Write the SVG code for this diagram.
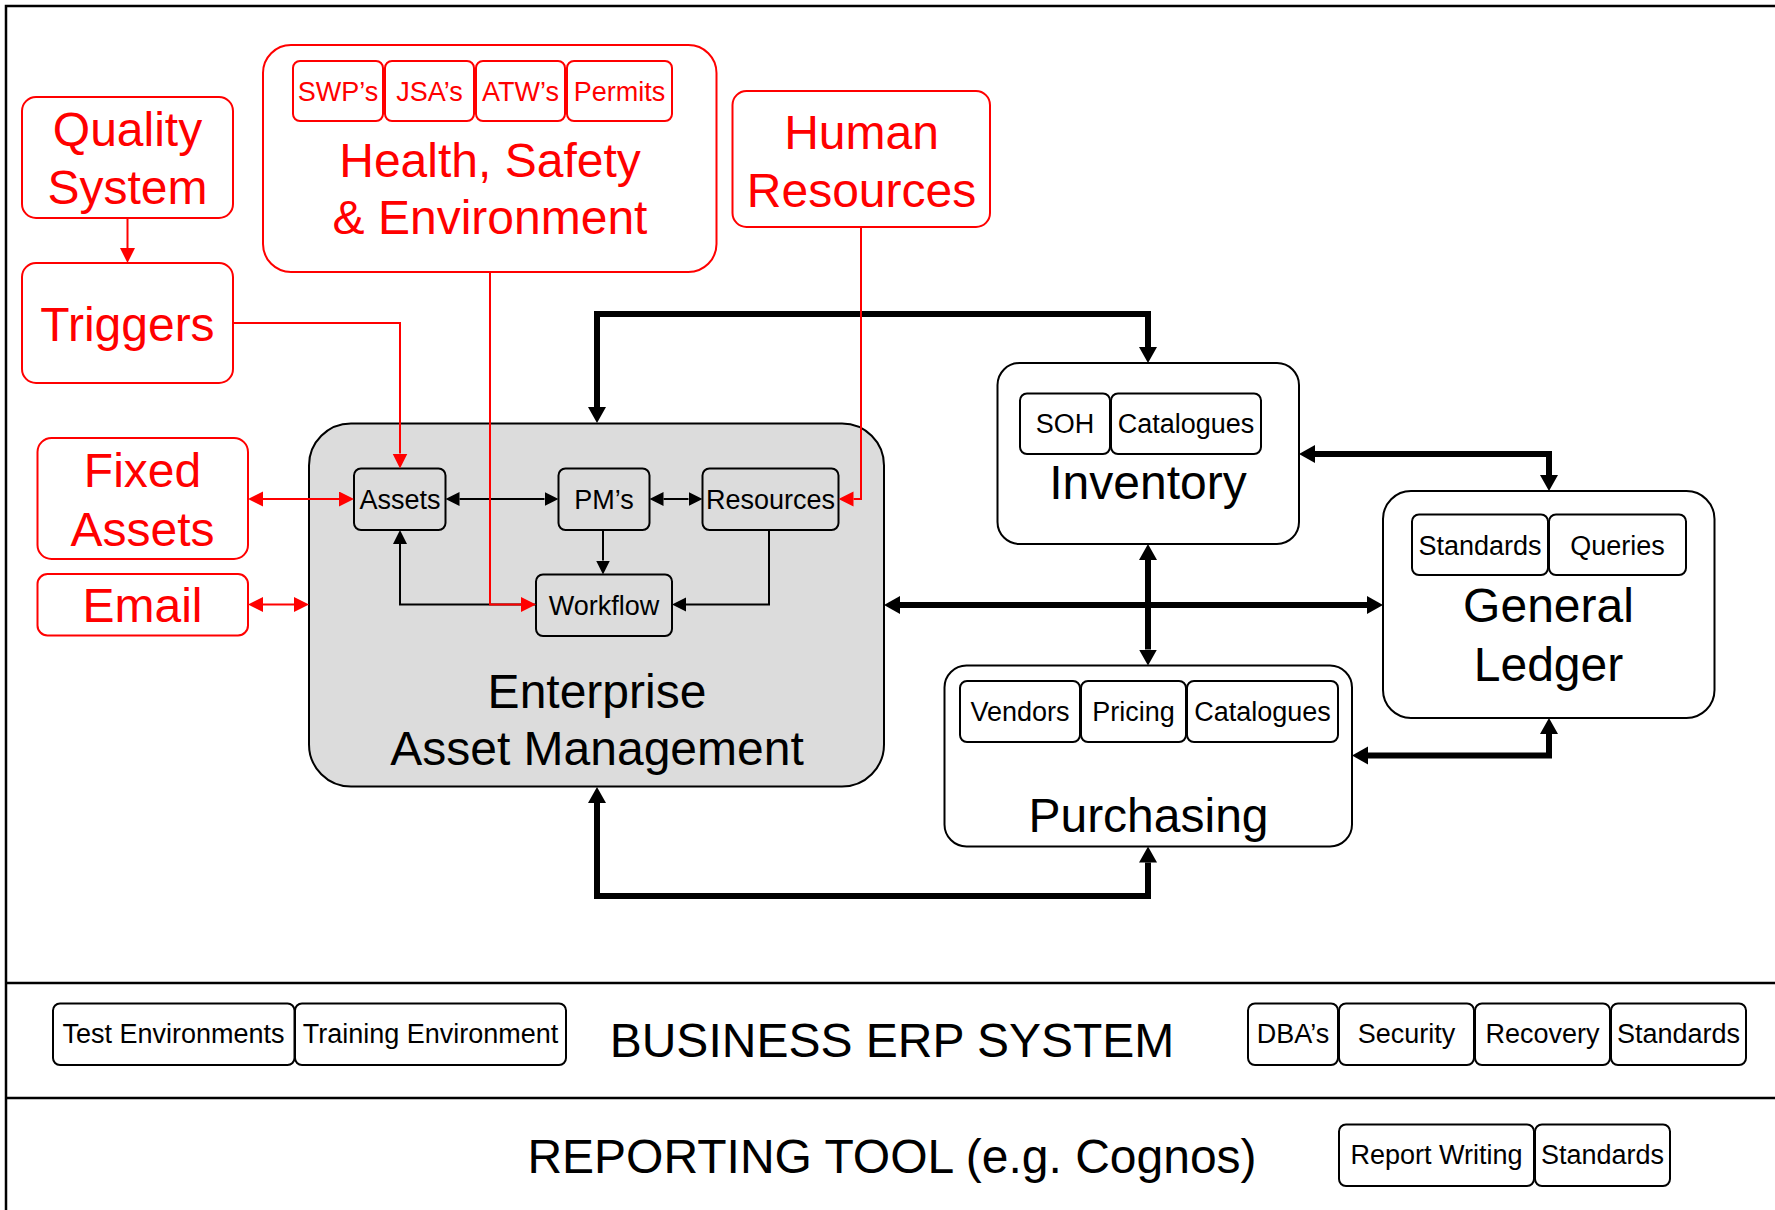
<svg xmlns="http://www.w3.org/2000/svg" width="1775" height="1210" viewBox="0 0 1775 1210">
<style>
text{font-family:"Liberation Sans",Arial,sans-serif;text-anchor:middle}
.big{font-size:48px}
.sm{font-size:27px}
.r{fill:#ff0000}
.k{fill:#000}
.rbox{fill:#fff;stroke:#ff0000;stroke-width:2}
.kbox{fill:#fff;stroke:#000;stroke-width:2}
.gbox{fill:#dcdcdc;stroke:#000;stroke-width:2}
.sub{fill:none;stroke:#000;stroke-width:2}
.rsub{fill:none;stroke:#ff0000;stroke-width:2}
.thick{fill:none;stroke:#000;stroke-width:6}
.thin{fill:none;stroke:#000;stroke-width:2}
.red{fill:none;stroke:#ff0000;stroke-width:2}
.frame{fill:none;stroke:#000;stroke-width:2.5}
</style>
<defs>
<marker id="ak" markerUnits="userSpaceOnUse" markerWidth="17" markerHeight="19" refX="0" refY="9" orient="auto-start-reverse"><path d="M0,0 L16,9 L0,18 z" fill="#000"/></marker>
<marker id="as" markerUnits="userSpaceOnUse" markerWidth="15" markerHeight="15" refX="0" refY="7" orient="auto-start-reverse"><path d="M0,0 L14,7 L0,14 z" fill="#000"/></marker>
<marker id="ar" markerUnits="userSpaceOnUse" markerWidth="16" markerHeight="16" refX="0" refY="7.5" orient="auto-start-reverse"><path d="M0,0 L15,7.5 L0,15 z" fill="#ff0000"/></marker>
</defs>
<rect width="1775" height="1210" fill="#fff"/>
<g id="frame">
<path class="frame" d="M6,1210 V6 H1775"/>
<path class="frame" d="M6,983 H1775 M6,1098 H1775"/>
</g>

<g id="quality">
<rect class="rbox" x="22" y="97" width="211" height="121" rx="14"/>
<text class="big r" x="127.5" y="145.5">Quality</text>
<text class="big r" x="127.5" y="203.5">System</text>
</g>
<g id="triggers">
<rect class="rbox" x="22" y="263" width="211" height="120" rx="14"/>
<text class="big r" x="127.5" y="340.5">Triggers</text>
</g>
<g id="hse">
<rect class="rbox" x="263" y="45" width="453.5" height="227" rx="28"/>
<rect class="rsub" x="293" y="61" width="90" height="60" rx="7"/>
<rect class="rsub" x="385" y="61" width="89" height="60" rx="7"/>
<rect class="rsub" x="476" y="61" width="89" height="60" rx="7"/>
<rect class="rsub" x="567" y="61" width="105" height="60" rx="7"/>
<text class="sm r" x="338" y="100.5">SWP’s</text>
<text class="sm r" x="429.5" y="100.5">JSA’s</text>
<text class="sm r" x="520.5" y="100.5">ATW’s</text>
<text class="sm r" x="619.5" y="100.5">Permits</text>
<text class="big r" x="490" y="176.5">Health, Safety</text>
<text class="big r" x="490" y="234">&amp; Environment</text>
</g>
<g id="hr">
<rect class="rbox" x="732.5" y="91" width="257.5" height="136" rx="14"/>
<text class="big r" x="861.5" y="149">Human</text>
<text class="big r" x="861.5" y="206.5">Resources</text>
</g>
<g id="fixedassets">
<rect class="rbox" x="37.5" y="438" width="210.5" height="121" rx="14"/>
<text class="big r" x="142.5" y="487">Fixed</text>
<text class="big r" x="142.5" y="545.5">Assets</text>
</g>
<g id="email">
<rect class="rbox" x="37.5" y="574" width="210.5" height="61.5" rx="10"/>
<text class="big r" x="142.5" y="621.5">Email</text>
</g>

<g id="eam">
<rect class="gbox" x="309" y="423.5" width="575" height="363" rx="42"/>
<text class="big k" x="597" y="708">Enterprise</text>
<text class="big k" x="597" y="765">Asset Management</text>
</g>
<g id="assets">
<rect class="sub" x="354" y="468.5" width="91.5" height="61.5" rx="7"/>
<text class="sm k" x="400" y="508.5">Assets</text>
</g>
<g id="pms">
<rect class="sub" x="558.5" y="468.5" width="91" height="61.5" rx="7"/>
<text class="sm k" x="604" y="508.5">PM’s</text>
</g>
<g id="resources">
<rect class="sub" x="702.5" y="468.5" width="136" height="61.5" rx="7"/>
<text class="sm k" x="770.5" y="508.5">Resources</text>
</g>
<g id="workflow">
<rect class="sub" x="536" y="574.5" width="136" height="61.5" rx="7"/>
<text class="sm k" x="604" y="614.5">Workflow</text>
</g>

<g id="inventory">
<rect class="kbox" x="997.5" y="363" width="301.5" height="181" rx="22"/>
<rect class="sub" x="1020" y="393.5" width="90" height="60.5" rx="7"/>
<rect class="sub" x="1111" y="393.5" width="150" height="60.5" rx="7"/>
<text class="sm k" x="1065" y="433">SOH</text>
<text class="sm k" x="1186" y="433">Catalogues</text>
<text class="big k" x="1148" y="499">Inventory</text>
</g>
<g id="gl">
<rect class="kbox" x="1383" y="491" width="331.5" height="227" rx="28"/>
<rect class="sub" x="1412" y="514.5" width="136" height="60.5" rx="7"/>
<rect class="sub" x="1549" y="514.5" width="137" height="60.5" rx="7"/>
<text class="sm k" x="1480" y="554.5">Standards</text>
<text class="sm k" x="1617.5" y="554.5">Queries</text>
<text class="big k" x="1548.5" y="621.5">General</text>
<text class="big k" x="1548.5" y="680.5">Ledger</text>
</g>
<g id="purchasing">
<rect class="kbox" x="944.5" y="665.5" width="407.5" height="181" rx="22"/>
<rect class="sub" x="960" y="681" width="120" height="61" rx="7"/>
<rect class="sub" x="1081" y="681" width="105" height="61" rx="7"/>
<rect class="sub" x="1187" y="681" width="151" height="61" rx="7"/>
<text class="sm k" x="1020" y="721">Vendors</text>
<text class="sm k" x="1133.5" y="721">Pricing</text>
<text class="sm k" x="1262.5" y="721">Catalogues</text>
<text class="big k" x="1148.5" y="832">Purchasing</text>
</g>

<g id="erp">
<rect class="sub" x="53" y="1003.5" width="241.5" height="61.5" rx="7"/>
<rect class="sub" x="295" y="1003.5" width="271" height="61.5" rx="7"/>
<text class="sm k" x="173.5" y="1043">Test Environments</text>
<text class="sm k" x="430.5" y="1043">Training Environment</text>
<text class="big k" x="892" y="1057">BUSINESS ERP SYSTEM</text>
<rect class="sub" x="1248" y="1003.5" width="90" height="61.5" rx="7"/>
<rect class="sub" x="1339" y="1003.5" width="135" height="61.5" rx="7"/>
<rect class="sub" x="1475" y="1003.5" width="135" height="61.5" rx="7"/>
<rect class="sub" x="1611" y="1003.5" width="135" height="61.5" rx="7"/>
<text class="sm k" x="1293" y="1043">DBA’s</text>
<text class="sm k" x="1406.5" y="1043">Security</text>
<text class="sm k" x="1542.5" y="1043">Recovery</text>
<text class="sm k" x="1678.5" y="1043">Standards</text>
</g>
<g id="reporting">
<text class="big k" x="892" y="1173">REPORTING TOOL (e.g. Cognos)</text>
<rect class="sub" x="1339" y="1124.5" width="195" height="61.5" rx="7"/>
<rect class="sub" x="1535" y="1124.5" width="135" height="61.5" rx="7"/>
<text class="sm k" x="1436.5" y="1164">Report Writing</text>
<text class="sm k" x="1602.5" y="1164">Standards</text>
</g>

<g id="connectors">
<path class="thick" d="M597,407 V314 H1148 V347" marker-start="url(#ak)" marker-end="url(#ak)"/>
<path class="thick" d="M597,803 V896 H1148 V862.5" marker-start="url(#ak)" marker-end="url(#ak)"/>
<path class="thick" d="M900,605 H1367" marker-start="url(#ak)" marker-end="url(#ak)"/>
<path class="thick" d="M1148,560 V649.5" marker-start="url(#ak)" marker-end="url(#ak)"/>
<path class="thick" d="M1315,454 H1549 V475" marker-start="url(#ak)" marker-end="url(#ak)"/>
<path class="thick" d="M1368,755.5 H1549 V734" marker-start="url(#ak)" marker-end="url(#ak)"/>

<path class="thin" d="M459.5,499 H544.5" marker-start="url(#as)" marker-end="url(#as)"/>
<path class="thin" d="M663.5,499 H688.5" marker-start="url(#as)" marker-end="url(#as)"/>
<path class="thin" d="M603,530 V560.5" marker-end="url(#as)"/>
<path class="thin" d="M769,530 V604.5 H686" marker-end="url(#as)"/>
<path class="thin" d="M536,604.5 H400 V544" marker-end="url(#as)"/>

<path class="red" d="M127.5,218 V248" marker-end="url(#ar)"/>
<path class="red" d="M233,323 H400 V453.5" marker-end="url(#ar)"/>
<path class="red" d="M490,272 V604.5 H521" marker-end="url(#ar)"/>
<path class="red" d="M861,227 V499 H853.5" marker-end="url(#ar)"/>
<path class="red" d="M263,499 H339" marker-start="url(#ar)" marker-end="url(#ar)"/>
<path class="red" d="M263,604.5 H294" marker-start="url(#ar)" marker-end="url(#ar)"/>
</g>
</svg>
